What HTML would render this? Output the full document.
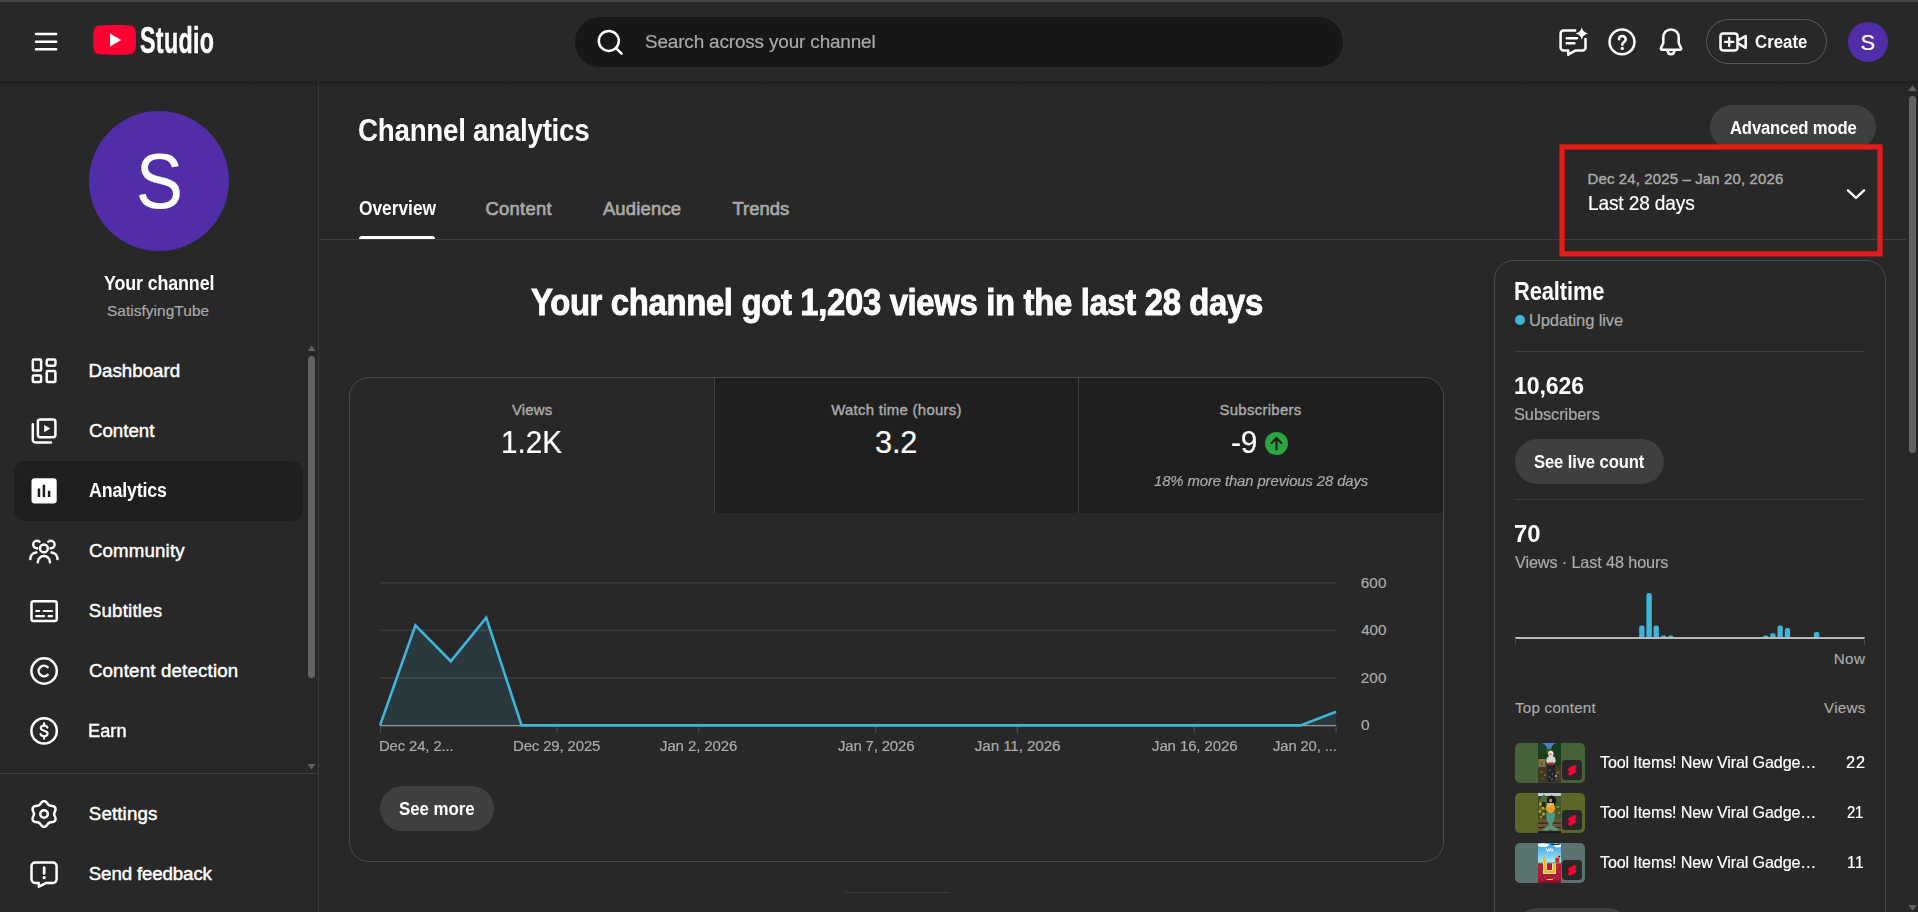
<!DOCTYPE html>
<html lang="en"><head><meta charset="utf-8"><title>Channel analytics - YouTube Studio</title>
<style>
html,body{margin:0;padding:0;}
html{width:1918px;height:912px;overflow:hidden;background:#282828;}
body{width:1918px;height:912px;overflow:hidden;background:#282828;position:relative;font-family:"Liberation Sans",sans-serif;color:#fff;}
.t{position:absolute;white-space:nowrap;display:block;}
.a{position:absolute;box-sizing:border-box;}
svg{position:absolute;overflow:visible;}
.pill{background:#3f3f3f;border-radius:23px;}
#app{position:absolute;left:0;top:0;width:1918px;height:912px;overflow:hidden;background:#282828;}
</style></head><body>
<div id="app">

<!-- top browser strip -->
<div class="a" style="left:0;top:0;width:1918px;height:2px;background:#444746"></div>

<!-- ===== sidebar ===== -->
<nav class="a" style="left:0;top:81px;width:319px;height:831px;border-right:1px solid #3a3a3a;"></nav>
<div class="a" style="left:89px;top:111px;width:140px;height:140px;border-radius:50%;background:#512da8"></div>
<div class="a" style="left:14px;top:461px;width:289px;height:60px;border-radius:10px;background:#1f1f1f"></div>
<div class="a" style="left:0;top:773px;width:318px;height:1px;background:#3f3f3f"></div>
<!-- sidebar scrollbar -->
<div class="a" style="left:308px;top:356px;width:7px;height:322px;border-radius:4px;background:#626262"></div>
<svg style="left:0;top:0" width="1918" height="912" viewBox="0 0 1918 912">
  <path d="M307.5 351 L311.5 345.5 L315.5 351Z" fill="#616161"/>
  <path d="M307.5 764 L311.5 769.5 L315.5 764Z" fill="#616161"/>
  <!-- main scrollbar arrows -->
  <path d="M1908.3 91 L1912.5 85 L1916.7 91Z" fill="#616161"/>
  <path d="M1908.3 905 L1912.5 911 L1916.7 905Z" fill="#616161"/>
</svg>
<div class="a" style="left:1909px;top:96px;width:7px;height:357px;border-radius:4px;background:#626262"></div>

<!-- ===== main: title / tabs ===== -->
<div class="a" style="left:319px;top:239px;width:1587px;height:1px;background:#3f3f3f"></div>
<div class="a" style="left:359px;top:236px;width:76px;height:3px;border-radius:3px 3px 0 0;background:#fff"></div>

<!-- Advanced mode -->
<div class="a pill" style="left:1710px;top:105px;width:166px;height:44px"></div>

<!-- ===== key metrics card ===== -->
<div class="a" style="left:349px;top:377px;width:1095px;height:485px;border:1px solid #4b4b4b;border-radius:20px;overflow:hidden">
  <div class="a" style="left:364px;top:0;width:365px;height:135px;background:#1f1f1f;border-left:1px solid #3f3f3f"></div>
  <div class="a" style="left:728px;top:0;width:366px;height:135px;background:#1f1f1f;border-left:1px solid #3f3f3f"></div>
</div>
<div class="a" style="left:1265px;top:432px;width:23px;height:23px;border-radius:50%;background:#2ba640"></div>
<svg style="left:1265px;top:432px" width="23" height="23" viewBox="0 0 23 23"><path d="M11.5 17.5V6.2M6.6 11 L11.5 6 L16.4 11" fill="none" stroke="#1f1f1f" stroke-width="2.1" stroke-linecap="round" stroke-linejoin="round"/></svg>

<!-- chart -->
<svg style="left:0;top:0" width="1918" height="912" viewBox="0 0 1918 912">
  <g stroke="#3b3b3b" stroke-width="1.6">
    <path d="M380 582.9H1336M380 630.4H1336M380 677.9H1336"/>
  </g>
  <path d="M380 725.6H1336" stroke="#9a9a9a" stroke-width="1.3"/>
  <g stroke="#4a4a4a" stroke-width="1.2">
    <path d="M380.5 726V733M557 726V733M698.7 726V733M875.7 726V733M1017.3 726V733M1194.3 726V733M1336 726V733"/>
  </g>
  <path d="M380 725.4 L415.4 625.3 L450.8 661.2 L486.2 617.7 L521.6 725.4 L1300.6 725.4 L1336 711.7 L1336 725.4Z" fill="#41b4d9" fill-opacity="0.13"/>
  <path d="M380 725.4 L415.4 625.3 L450.8 661.2 L486.2 617.7 L521.6 725.4 L1300.6 725.4 L1336 711.7" fill="none" stroke="#41b4d9" stroke-width="2.6" stroke-linejoin="miter" stroke-linecap="butt"/>
</svg>
<div class="a pill" style="left:380px;top:786px;width:114px;height:45px"></div>
<div class="a" style="left:845px;top:892px;width:103px;height:1px;background:#3f3f3f"></div>

<!-- ===== realtime card ===== -->
<div class="a" style="left:1494px;top:260px;width:392px;height:700px;border:1px solid #4b4b4b;border-radius:20px"></div>
<div class="a" style="left:1515px;top:315px;width:10px;height:10px;border-radius:50%;background:#41b4d9"></div>
<div class="a" style="left:1515px;top:351px;width:350px;height:1px;background:#3f3f3f"></div>
<div class="a pill" style="left:1515px;top:439px;width:149px;height:45px"></div>
<div class="a" style="left:1515px;top:499px;width:350px;height:1px;background:#3f3f3f"></div>
<svg style="left:0;top:0" width="1918" height="912" viewBox="0 0 1918 912">
  <g fill="#41b4d9">
    <path d="M1639.2 638V627.5a2 2 0 0 1 2-2h1.3a2 2 0 0 1 2 2V638Z"/>
    <path d="M1646.4 638V595.5a2.5 2.5 0 0 1 2.5-2.5h.4a2.5 2.5 0 0 1 2.5 2.5V638Z"/>
    <path d="M1653.6 638V627.5a2 2 0 0 1 2-2h1.3a2 2 0 0 1 2 2V638Z"/>
    <path d="M1660.9 638V637a1.6 1.6 0 0 1 1.6-1.6h2.1a1.6 1.6 0 0 1 1.6 1.6V638Z"/>
    <path d="M1668.2 638V637a1.6 1.6 0 0 1 1.6-1.6h2.1a1.6 1.6 0 0 1 1.6 1.6V638Z"/>
    <path d="M1763 638V637a1.6 1.6 0 0 1 1.6-1.6h2.1a1.6 1.6 0 0 1 1.6 1.6V638Z"/>
    <path d="M1770.2 638V635.3a2 2 0 0 1 2-2h1.3a2 2 0 0 1 2 2V638Z"/>
    <path d="M1777.5 638V627.5a2 2 0 0 1 2-2h1.3a2 2 0 0 1 2 2V638Z"/>
    <path d="M1784.8 638V630a2 2 0 0 1 2-2h1.3a2 2 0 0 1 2 2V638Z"/>
    <path d="M1814 638V633.9a2 2 0 0 1 2-2h1.3a2 2 0 0 1 2 2V638Z"/>
  </g>
  <path d="M1515 638H1865" stroke="#b8b8b8" stroke-width="2.2"/>
  <path d="M1515.5 638V645M1864.5 638V645" stroke="#4a4a4a" stroke-width="1"/>
</svg>

<!-- top content thumbs -->
<div class="a" style="left:1515px;top:743px;width:70px;height:40px;border-radius:5px;background:#466236;overflow:hidden"><svg style="left:23px;top:0" width="23" height="40" viewBox="0 0 23 40"><filter id="bl0" x="-5%" y="-5%" width="110%" height="110%"><feGaussianBlur stdDeviation="0.45"/></filter><svg width="23" height="40" viewBox="0 0 23 40" style="position:static;overflow:hidden"><g filter="url(#bl0)"><rect width="23" height="40" fill="#1e3a1d"/><rect x="3" y="0" width="17" height="7" fill="#4a7fbd"/><ellipse cx="2.5" cy="6" rx="6.5" ry="6" fill="#1f3f20"/><ellipse cx="19.5" cy="7" rx="6.5" ry="7" fill="#1b3a1c"/><ellipse cx="11" cy="8" rx="3" ry="2.5" fill="#2c5a2c"/><rect x="0" y="22" width="23" height="18" fill="#3b3a22"/><rect x="0.5" y="16" width="7" height="8" fill="#8d744a"/><rect x="2.5" y="18.5" width="2.2" height="5" fill="#5f5a44"/><rect x="9.3" y="21" width="7.8" height="18" rx="2" fill="#23272c"/><ellipse cx="13" cy="17.3" rx="4.7" ry="4.6" fill="#d9d3d1"/><rect x="10" y="19.6" width="6.4" height="2.3" rx="1" fill="#a3323b"/><ellipse cx="12.8" cy="10.6" rx="2.7" ry="2.9" fill="#ebe7e4"/><circle cx="12.5" cy="11.3" r="1.1" fill="#c8555c"/><circle cx="3.5" cy="29" r="1.6" fill="#7d4a2a"/><circle cx="20" cy="29.5" r="1.7" fill="#8a4a28"/><circle cx="4.5" cy="35.5" r="1.6" fill="#6a3a20"/><circle cx="19" cy="36" r="1.5" fill="#5c3a24"/><circle cx="7" cy="32" r="1.1" fill="#8a6a4a"/><circle cx="18" cy="33" r="1" fill="#c8c0b0"/><circle cx="12" cy="27" r=".8" fill="#7a7e86"/><circle cx="14.5" cy="31" r=".8" fill="#6a6e76"/><circle cx="11.5" cy="34" r=".8" fill="#70747c"/><circle cx="14" cy="36.5" r=".7" fill="#8a8e96"/></g></svg></svg></div><div class="a" style="left:1562px;top:760px;width:20px;height:20px;border-radius:3.5px;background:#282828"></div><svg style="left:1562px;top:760px" width="20" height="20" viewBox="0 0 20 20"><g transform="translate(10.25 10.4) scale(0.52) translate(-12 -12)"><path fill="#ff0033" d="M17.77 10.32l-1.2-.5L18 9.06a3.74 3.74 0 00-3.5-6.62L6 6.94a3.74 3.74 0 00.23 6.74l1.2.49L6 14.93a3.75 3.75 0 003.5 6.63l8.5-4.5a3.74 3.74 0 00-.23-6.74z"/></g></svg>
<div class="a" style="left:1515px;top:793px;width:70px;height:40px;border-radius:5px;background:#5b6727;overflow:hidden"><svg style="left:23px;top:0" width="23" height="40" viewBox="0 0 23 40"><filter id="bl1" x="-5%" y="-5%" width="110%" height="110%"><feGaussianBlur stdDeviation="0.45"/></filter><svg width="23" height="40" viewBox="0 0 23 40" style="position:static;overflow:hidden"><g filter="url(#bl1)"><rect width="23" height="40" fill="#3e4a24"/><rect x="0" y="0" width="23" height="3" fill="#c3ccd6"/><path d="M1 8L6 1.200L11 8V17H1z" fill="#4a7030"/><rect x="3.5" y="9" width="4" height="6" fill="#1c2414"/><rect x="16" y="3" width="7" height="24" fill="#3f5a2a"/><ellipse cx="13.5" cy="8" rx="4.6" ry="5.500" fill="#17150f"/><ellipse cx="12.6" cy="7.6" rx="1.5" ry="2" fill="#b98a6a"/><rect x="0" y="26" width="23" height="14" fill="#6d5632"/><rect x="0" y="29.500" width="23" height="1.200" fill="#2f2618"/><rect x="0" y="34" width="23" height="1.200" fill="#2f2618"/><circle cx="2.500" cy="11" r="1.400" fill="#d9a022"/><circle cx="5" cy="15" r="1.500" fill="#d39a20"/><circle cx="2" cy="18.500" r="1.400" fill="#cf9420"/><circle cx="5.500" cy="21" r="1.500" fill="#d9a022"/><circle cx="3" cy="24" r="1.300" fill="#b98420"/><circle cx="20" cy="14" r="1.100" fill="#c89020"/><circle cx="21" cy="20" r="1" fill="#b88420"/><path d="M8.500 19.500C7.500 24 9.500 29 11.500 32L4 36.500C7 38.500 10 38 12.500 36C15 38 19 38.500 21 36.500L13.800 32C16 28 17.500 24 16.800 19.500z" fill="#4f9a86"/><ellipse cx="12.600" cy="15.200" rx="4.600" ry="5" fill="#e39a26"/><circle cx="11" cy="13" r="1.500" fill="#f0b838"/><circle cx="14.300" cy="13.800" r="1.500" fill="#f0b030"/><circle cx="12.400" cy="17" r="1.600" fill="#eaa428"/><rect x="9" y="10.200" width="7" height="1.600" fill="#d8c8a8"/><rect x="0" y="38.200" width="23" height="1.800" fill="#1c1a14"/></g></svg></svg></div><div class="a" style="left:1562px;top:810px;width:20px;height:20px;border-radius:3.5px;background:#282828"></div><svg style="left:1562px;top:810px" width="20" height="20" viewBox="0 0 20 20"><g transform="translate(10.25 10.4) scale(0.52) translate(-12 -12)"><path fill="#ff0033" d="M17.77 10.32l-1.2-.5L18 9.06a3.74 3.74 0 00-3.5-6.62L6 6.94a3.74 3.74 0 00.23 6.74l1.2.49L6 14.93a3.75 3.75 0 003.5 6.63l8.5-4.5a3.74 3.74 0 00-.23-6.74z"/></g></svg>
<div class="a" style="left:1515px;top:843px;width:70px;height:40px;border-radius:5px;background:#5a7370;overflow:hidden"><svg style="left:23px;top:0" width="23" height="40" viewBox="0 0 23 40"><filter id="bl2" x="-5%" y="-5%" width="110%" height="110%"><feGaussianBlur stdDeviation="0.45"/></filter><svg width="23" height="40" viewBox="0 0 23 40" style="position:static;overflow:hidden"><g filter="url(#bl2)"><defs><linearGradient id="sk" x1="0" y1="0" x2="0" y2="1"><stop offset="0" stop-color="#2f9be8"/><stop offset="1" stop-color="#b4ecf2"/></linearGradient><linearGradient id="gd" x1="0" y1="0" x2="0" y2="1"><stop offset="0" stop-color="#b21f3e"/><stop offset=".75" stop-color="#a8183a"/><stop offset="1" stop-color="#7c0f22"/></linearGradient></defs><rect width="23" height="20.300" fill="url(#sk)"/><rect y="20.300" width="23" height="19.700" fill="url(#gd)"/><rect y="19.500" width="23" height="1" fill="#4c9a2a"/><ellipse cx="5" cy="2.200" rx="6" ry="1.900" fill="#fff"/><ellipse cx="20" cy="3" rx="4" ry="1.400" fill="#fff"/><rect x="13" y=".5" width="8.500" height="1.200" rx=".5" fill="#141414"/><rect x="15.500" y=".300" width="4.500" height=".600" fill="#e8d040"/><path d="M8.300 5.500l1.300 3 1.200-3M11.200 8.500l1.200-3 1.200 3M13.900 5.500l1.200 3" stroke="#fff" stroke-width="1" fill="none"/><g fill="#c43a58" opacity=".55"><rect x="1" y="23" width="2" height="2"/><rect x="3" y="27" width="2" height="2"/><rect x="1" y="31" width="2" height="2"/><rect x="19" y="23" width="2" height="2"/><rect x="20.500" y="28" width="2" height="2"/><rect x="18.500" y="32" width="2" height="2"/><rect x="6" y="33" width="2" height="2"/><rect x="11" y="33.500" width="2" height="2"/><rect x="15.500" y="34" width="2" height="2"/><rect x="3" y="35.500" width="2" height="2"/></g><path d="M5 19V31H17.800V20.500H14V27H8.800V19z" fill="#fff"/><path d="M5.600 17.500V30.400H17.200V21H14.600V27.600H8.200V17.500z" fill="#e6bd1e"/><circle cx="6.200" cy="15" r="1.500" fill="#e8a46a"/><rect x="5.300" y="16.200" width="2.200" height="3" fill="#e6c02a"/><rect x="17.300" y="14.800" width="4" height="5" rx="1" fill="#d82038"/><circle cx="19.600" cy="13.200" r="1.500" fill="#e8a080"/><circle cx="21.300" cy="13.600" r=".9" fill="#141414"/><rect x="8.500" y="36" width="6.500" height="1.100" rx=".5" fill="#e8c820"/></g></svg></svg></div><div class="a" style="left:1562px;top:860px;width:20px;height:20px;border-radius:3.5px;background:#282828"></div><svg style="left:1562px;top:860px" width="20" height="20" viewBox="0 0 20 20"><g transform="translate(10.25 10.4) scale(0.52) translate(-12 -12)"><path fill="#ff0033" d="M17.77 10.32l-1.2-.5L18 9.06a3.74 3.74 0 00-3.5-6.62L6 6.94a3.74 3.74 0 00.23 6.74l1.2.49L6 14.93a3.75 3.75 0 003.5 6.63l8.5-4.5a3.74 3.74 0 00-.23-6.74z"/></g></svg>
<div class="a pill" style="left:1515px;top:908px;width:115px;height:45px"></div>

<!-- ===== red highlight box (annotation) ===== -->
<svg style="left:0;top:0" width="1918" height="912" viewBox="0 0 1918 912"><rect x="1562.05" y="146.95" width="317.9" height="106.9" fill="none" stroke="#e31b1b" stroke-width="5.3"/></svg>
<svg style="left:1846px;top:187px" width="20" height="14" viewBox="0 0 20 14"><path d="M2 3.3 L10 11 L18 3.3" fill="none" stroke="#fff" stroke-width="2.4" stroke-linecap="round" stroke-linejoin="round"/></svg>

<!-- ===== header ===== -->
<div class="a" style="left:0;top:81px;width:1918px;height:8px;background:linear-gradient(rgba(0,0,0,.22),rgba(0,0,0,0))"></div>
<header class="a" style="left:0;top:2px;width:1918px;height:79px;background:#282828"></header>
<div class="a" style="left:575px;top:17px;width:768px;height:50px;border-radius:25px;background:#171717"></div>
<div class="a" style="left:1706px;top:19px;width:121px;height:45px;border-radius:23px;border:1px solid #5a5a5a"></div>
<div class="a" style="left:1848px;top:22px;width:40px;height:40px;border-radius:50%;background:#512da8"></div>
<div class="t" style="left:140.1px;top:19.4px;font-size:36.7px;line-height:44px;font-weight:700;transform:scaleX(0.634);transform-origin:0 0;letter-spacing:0.5px;-webkit-text-stroke:0.5px #fff">Studio</div>
<svg style="left:0;top:0" width="1918" height="912" viewBox="0 0 1918 912" fill="none" stroke="#fff" stroke-width="2.5" stroke-linecap="round" stroke-linejoin="round">
  <!-- hamburger -->
  <g fill="#fff" stroke="none"><rect x="34.8" y="32.8" width="22.5" height="2.5" rx="1"/><rect x="34.8" y="40.4" width="22.5" height="2.5" rx="1"/><rect x="34.8" y="48" width="22.5" height="2.5" rx="1"/></g>
  <!-- yt logo -->
  <path stroke="none" fill="#ff0033" d="M135.2 29.6c-.5-1.9-2-3.3-3.8-3.8C128 24.9 114.6 24.9 114.6 24.9s-13.4 0-16.8.9c-1.800.5-3.300 1.900-3.800 3.800C93.1 33 93.1 39.900 93.1 39.900s0 6.900.9 10.300c.5 1.900 2 3.300 3.800 3.800 3.400.9 16.800.9 16.800.9s13.400 0 16.800-.9c1.800-.5 3.300-1.900 3.800-3.800.9-3.400.9-10.300.9-10.300s0-6.900-.9-10.300z"/>
  <path stroke="none" fill="#fff" d="M110 33.5V46.400L121.200 39.950z"/>
  <!-- search icon -->
  <circle cx="608.8" cy="40.900" r="10" stroke-width="2.5"/><path d="M616.200 48.300L621.600 53.600" stroke-width="2.5"/>
  <!-- chat sparkle icon -->
  <path stroke-linecap="butt" d="M1576.2 30.5H1563.6a3 3 0 0 0-3 3V47.4a3 3 0 0 0 3 3h4.600V54.700L1575.7 50.4H1582.500a3 3 0 0 0 3-3V38"/>
  <path d="M1566.700 38.300H1577M1566.700 43.200H1574.400"/>
  <path stroke="none" fill="#fff" d="M1581.800 26.900c.7 3.600 2.400 5.600 6.100 6.500-3.700.9-5.400 2.900-6.100 6.500-.7-3.600-2.400-5.600-6.100-6.500 3.700-.9 5.400-2.900 6.100-6.500z"/>
  <!-- help -->
  <circle cx="1622" cy="41.9" r="12.45"/>
  <path d="M1619 39.300c0-1.900 1.400-3.300 3.300-3.300s3.400 1.400 3.400 3.200c0 2.700-3.400 2.800-3.400 5.500" stroke-width="2.600"/><circle cx="1622.300" cy="48.400" r="1.650" fill="#fff" stroke="none"/>
  <!-- bell -->
  <path d="M1671 29.400c-4.500 0-7.700 3.500-7.700 8V43l-2.400 5.200c-.3.700.2 1.500 1 1.500h18.200c.8 0 1.300-.8 1-1.500L1678.700 43V37.400c0-4.500-3.200-8-7.700-8z"/>
  <path d="M1667.500 50.500c.3 2.200 1.700 3.800 3.500 3.800s3.200-1.600 3.500-3.800"/>
  <!-- create camera -->
  <rect x="1720.500" y="33.400" width="17" height="17" rx="2.800"/>
  <path d="M1729.200 37.800V46M1725.100 41.900H1733.300" stroke-width="2.300"/>
  <path d="M1738.500 40.200L1745.700 36V47.800L1738.500 43.600"/>
</svg>

<!-- ===== sidebar icons ===== -->
<svg style="left:0;top:0" width="1918" height="912" viewBox="0 0 1918 912" fill="none" stroke="#fff" stroke-width="2.5" stroke-linecap="round" stroke-linejoin="round">
  <!-- dashboard -->
  <rect x="32.8" y="359.5" width="8.3" height="11.1" rx="1.2"/><rect x="32.8" y="375.6" width="8.3" height="6.5" rx="1.2"/>
  <rect x="46.7" y="359.5" width="8.7" height="6.2" rx="1.2"/><rect x="46.7" y="371" width="8.7" height="11.1" rx="1.2"/>
  <!-- content -->
  <rect x="37.9" y="419.5" width="17.5" height="17.8" rx="2.2"/>
  <path d="M32.8 424.2V439.9a2.5 2.5 0 0 0 2.5 2.5H51"/>
  <path stroke="none" fill="#fff" d="M44.2 424.9V432.2L50.4 428.55z"/>
  <!-- analytics (selected, filled) -->
  <rect x="31.5" y="478.2" width="25.2" height="25.2" rx="3.2" fill="#fff" stroke="none"/>
  <path d="M38.95 488.6V496.9M43.9 484.8V496.9M49.1 490.8V496.9" stroke="#1f1f1f" stroke-width="2.5" stroke-linecap="butt"/>
  <!-- community -->
  <circle cx="43.900" cy="548.400" r="3.900"/>
  <path d="M37.800 562.300c0-3.400 2.700-6.200 6.100-6.200s6.100 2.800 6.100 6.200"/>
  <path d="M37.200 548.300a3.800 3.800 0 1 1 2.200-6.700"/>
  <path d="M50.600 548.300a3.800 3.800 0 1 0-2.200-6.700"/>
  <path d="M30.300 559c0-3.300 2.500-6.200 6-6.600"/>
  <path d="M57.500 559c0-3.300-2.500-6.200-6-6.600"/>
  <!-- subtitles -->
  <rect x="31.500" y="601.300" width="25.200" height="19.700" rx="2"/>
  <path d="M36.200 611H39.200M43.800 611H52M36.200 616.200H44M48.600 616.200H52" stroke-width="2.200"/>
  <!-- copyright -->
  <circle cx="44.100" cy="671" r="12.700"/>
  <path d="M47.600 667.200a5.300 5.300 0 1 0 0 7.600"/>
  <!-- earn -->
  <circle cx="44.100" cy="730.900" r="12.700"/>
  <path d="M47.400 727.600c-.4-1.300-1.700-2-3.300-2-1.900 0-3.300 1-3.300 2.500 0 3.600 6.800 1.700 6.800 5.500 0 1.500-1.400 2.600-3.500 2.600-1.800 0-3.200-.8-3.600-2.200M44.100 723.200V725.600M44.100 736.200V738.600" stroke-width="2.100"/>
  <!-- settings -->
  <circle cx="44.05" cy="814" r="3.75"/>
  <path d="M54.15 814.00 L54.19 813.56 L54.29 813.10 L54.46 812.63 L54.66 812.13 L54.89 811.60 L55.11 811.04 L55.30 810.45 L55.44 809.85 L55.51 809.25 L55.49 808.67 L55.36 808.11 L55.14 807.60 L54.81 807.15 L54.39 806.76 L53.89 806.45 L53.34 806.21 L52.75 806.03 L52.15 805.90 L51.55 805.82 L50.98 805.75 L50.44 805.67 L49.95 805.58 L49.50 805.44 L49.10 805.25 L48.73 805.00 L48.39 804.68 L48.07 804.30 L47.74 803.87 L47.39 803.41 L47.01 802.94 L46.60 802.48 L46.16 802.06 L45.67 801.70 L45.15 801.43 L44.61 801.26 L44.05 801.20 L43.49 801.26 L42.95 801.43 L42.43 801.70 L41.94 802.06 L41.50 802.48 L41.09 802.94 L40.71 803.41 L40.36 803.87 L40.03 804.30 L39.71 804.68 L39.37 805.00 L39.00 805.25 L38.60 805.44 L38.15 805.58 L37.66 805.67 L37.12 805.75 L36.55 805.82 L35.95 805.90 L35.35 806.03 L34.76 806.21 L34.21 806.45 L33.71 806.76 L33.29 807.15 L32.96 807.60 L32.74 808.11 L32.61 808.67 L32.59 809.25 L32.66 809.85 L32.80 810.45 L32.99 811.04 L33.21 811.60 L33.44 812.13 L33.64 812.63 L33.81 813.10 L33.91 813.56 L33.95 814.00 L33.91 814.44 L33.81 814.90 L33.64 815.37 L33.44 815.87 L33.21 816.40 L32.99 816.96 L32.80 817.55 L32.66 818.15 L32.59 818.75 L32.61 819.33 L32.74 819.89 L32.96 820.40 L33.29 820.85 L33.71 821.24 L34.21 821.55 L34.76 821.79 L35.35 821.97 L35.95 822.10 L36.55 822.18 L37.12 822.25 L37.66 822.33 L38.15 822.42 L38.60 822.56 L39.00 822.75 L39.37 823.00 L39.71 823.32 L40.03 823.70 L40.36 824.13 L40.71 824.59 L41.09 825.06 L41.50 825.52 L41.94 825.94 L42.43 826.30 L42.95 826.57 L43.49 826.74 L44.05 826.80 L44.61 826.74 L45.15 826.57 L45.67 826.30 L46.16 825.94 L46.60 825.52 L47.01 825.06 L47.39 824.59 L47.74 824.13 L48.07 823.70 L48.39 823.32 L48.73 823.00 L49.10 822.75 L49.50 822.56 L49.95 822.42 L50.44 822.33 L50.98 822.25 L51.55 822.18 L52.15 822.10 L52.75 821.97 L53.34 821.79 L53.89 821.55 L54.39 821.24 L54.81 820.85 L55.14 820.40 L55.36 819.89 L55.49 819.33 L55.51 818.75 L55.44 818.15 L55.30 817.55 L55.11 816.96 L54.89 816.40 L54.66 815.87 L54.46 815.37 L54.29 814.90 L54.19 814.44Z"/>
  <!-- feedback -->
  <path d="M35.1 862.5H53a3.6 3.6 0 0 1 3.6 3.6V879.3a3.6 3.6 0 0 1-3.6 3.6H46.5L38.8 886.7V882.9H35.1a3.6 3.6 0 0 1-3.6-3.6V866.1a3.600 3.600 0 0 1 3.600-3.600z"/>
  <path d="M44.15 867.700V873.500" stroke-width="2.700"/><circle cx="44.15" cy="877.700" r="1.600" fill="#fff" stroke="none"/>
</svg>

<span class="t" style="left:645.20px;top:29.00px;font-size:19.08px;line-height:25px;color:#aaaaaa;letter-spacing:-0.148px;transform:scaleX(0.9909);transform-origin:0 0;-webkit-text-stroke:0.2px #aaaaaa;">Search across your channel</span>
<span class="t" style="left:1755.01px;top:30.00px;font-size:18.08px;line-height:24px;color:#fff;font-weight:700;letter-spacing:0.011px;transform:scaleX(0.9289);transform-origin:0 0;">Create</span>
<span class="t" style="left:1860.41px;top:29.00px;font-size:21.71px;line-height:28px;color:#fff;-webkit-text-stroke:0.2px #fff;">S</span>
<span class="t" style="left:135.99px;top:131.00px;font-size:77.7px;line-height:101px;color:#fff;transform:scaleX(0.9037);transform-origin:0 0;-webkit-text-stroke:0.2px #fff;">S</span>
<span class="t" style="left:103.68px;top:271.00px;font-size:19.37px;line-height:25px;color:#fff;font-weight:700;letter-spacing:-0.124px;transform:scaleX(0.9214);transform-origin:0 0;">Your channel</span>
<span class="t" style="left:106.93px;top:301.00px;font-size:15.41px;line-height:20px;color:#aaaaaa;letter-spacing:0.063px;-webkit-text-stroke:0.2px #aaaaaa;">SatisfyingTube</span>
<span class="t" style="left:88.46px;top:359.00px;font-size:18.71px;line-height:24px;color:#fff;letter-spacing:0.033px;-webkit-text-stroke:0.45px #fff;">Dashboard</span>
<span class="t" style="left:88.90px;top:419.00px;font-size:18.71px;line-height:24px;color:#fff;letter-spacing:0.019px;-webkit-text-stroke:0.45px #fff;">Content</span>
<span class="t" style="left:88.53px;top:478.00px;font-size:19.37px;line-height:25px;color:#fff;font-weight:700;letter-spacing:-0.176px;transform:scaleX(0.9191);transform-origin:0 0;">Analytics</span>
<span class="t" style="left:88.88px;top:539.00px;font-size:18.71px;line-height:24px;color:#fff;letter-spacing:0.154px;-webkit-text-stroke:0.45px #fff;">Community</span>
<span class="t" style="left:88.79px;top:599.00px;font-size:18.71px;line-height:24px;color:#fff;letter-spacing:0.209px;-webkit-text-stroke:0.45px #fff;">Subtitles</span>
<span class="t" style="left:88.88px;top:659.00px;font-size:18.71px;line-height:24px;color:#fff;letter-spacing:0.179px;-webkit-text-stroke:0.45px #fff;">Content detection</span>
<span class="t" style="left:88.18px;top:719.00px;font-size:18.71px;line-height:24px;color:#fff;letter-spacing:0.040px;transform:scaleX(0.9725);transform-origin:0 0;-webkit-text-stroke:0.45px #fff;">Earn</span>
<span class="t" style="left:88.79px;top:802.00px;font-size:18.71px;line-height:24px;color:#fff;letter-spacing:0.146px;-webkit-text-stroke:0.45px #fff;">Settings</span>
<span class="t" style="left:88.79px;top:862.00px;font-size:18.71px;line-height:24px;color:#fff;letter-spacing:-0.126px;-webkit-text-stroke:0.45px #fff;">Send feedback</span>
<span class="t" style="left:357.87px;top:110.00px;font-size:31.51px;line-height:41px;color:#fff;font-weight:700;letter-spacing:-0.325px;transform:scaleX(0.8821);transform-origin:0 0;">Channel analytics</span>
<span class="t" style="left:359.14px;top:196.00px;font-size:19.37px;line-height:25px;color:#fff;font-weight:700;letter-spacing:-0.039px;transform:scaleX(0.8978);transform-origin:0 0;">Overview</span>
<span class="t" style="left:485.45px;top:197.00px;font-size:18.42px;line-height:24px;color:#aaaaaa;letter-spacing:0.282px;-webkit-text-stroke:0.65px #aaaaaa;">Content</span>
<span class="t" style="left:602.88px;top:197.00px;font-size:18.42px;line-height:24px;color:#aaaaaa;letter-spacing:0.212px;-webkit-text-stroke:0.65px #aaaaaa;">Audience</span>
<span class="t" style="left:732.51px;top:197.00px;font-size:18.42px;line-height:24px;color:#aaaaaa;letter-spacing:0.007px;-webkit-text-stroke:0.65px #aaaaaa;">Trends</span>
<span class="t" style="left:530.84px;top:278.00px;font-size:37.74px;line-height:49px;color:#fff;font-weight:700;letter-spacing:-0.396px;transform:scaleX(0.8712);transform-origin:0 0;-webkit-text-stroke:0.9px #fff;">Your channel got 1,203 views in the last 28 days</span>
<span class="t" style="left:511.90px;top:401.00px;font-size:14.91px;line-height:19px;color:#aaaaaa;letter-spacing:0.215px;-webkit-text-stroke:0.4px #aaaaaa;">Views</span>
<span class="t" style="left:501.46px;top:423.00px;font-size:30.7px;line-height:40px;color:#fff;letter-spacing:0.016px;transform:scaleX(0.9657);transform-origin:0 0;-webkit-text-stroke:0.2px #fff;">1.2K</span>
<span class="t" style="left:831.18px;top:401.00px;font-size:14.91px;line-height:19px;color:#aaaaaa;letter-spacing:0.296px;-webkit-text-stroke:0.4px #aaaaaa;">Watch time (hours)</span>
<span class="t" style="left:875.06px;top:423.00px;font-size:30.7px;line-height:40px;color:#fff;letter-spacing:-0.184px;-webkit-text-stroke:0.2px #fff;">3.2</span>
<span class="t" style="left:1219.47px;top:401.00px;font-size:14.91px;line-height:19px;color:#aaaaaa;letter-spacing:0.307px;-webkit-text-stroke:0.4px #aaaaaa;">Subscribers</span>
<span class="t" style="left:1231.03px;top:423.00px;font-size:30.7px;line-height:40px;color:#fff;letter-spacing:-0.087px;transform:scaleX(0.9720);transform-origin:0 0;-webkit-text-stroke:0.2px #fff;">-9</span>
<span class="t" style="left:1153.83px;top:471.00px;font-size:15.2px;line-height:20px;color:#aaaaaa;font-style:italic;letter-spacing:-0.116px;transform:scaleX(0.9798);transform-origin:0 0;-webkit-text-stroke:0.2px #aaaaaa;">18% more than previous 28 days</span>
<span class="t" style="left:379.08px;top:736.00px;font-size:15.2px;line-height:20px;color:#aaaaaa;letter-spacing:-0.113px;transform:scaleX(0.9771);transform-origin:0 0;-webkit-text-stroke:0.2px #aaaaaa;">Dec 24, 2...</span>
<span class="t" style="left:513.04px;top:736.00px;font-size:15.2px;line-height:20px;color:#aaaaaa;letter-spacing:-0.138px;transform:scaleX(0.9841);transform-origin:0 0;-webkit-text-stroke:0.2px #aaaaaa;">Dec 29, 2025</span>
<span class="t" style="left:660.09px;top:736.00px;font-size:15.2px;line-height:20px;color:#aaaaaa;letter-spacing:-0.098px;transform:scaleX(0.9855);transform-origin:0 0;-webkit-text-stroke:0.2px #aaaaaa;">Jan 2, 2026</span>
<span class="t" style="left:837.90px;top:736.00px;font-size:15.2px;line-height:20px;color:#aaaaaa;letter-spacing:-0.161px;transform:scaleX(0.9829);transform-origin:0 0;-webkit-text-stroke:0.2px #aaaaaa;">Jan 7, 2026</span>
<span class="t" style="left:974.85px;top:736.00px;font-size:15.2px;line-height:20px;color:#aaaaaa;letter-spacing:-0.101px;-webkit-text-stroke:0.2px #aaaaaa;">Jan 11, 2026</span>
<span class="t" style="left:1152.49px;top:736.00px;font-size:15.2px;line-height:20px;color:#aaaaaa;letter-spacing:-0.111px;transform:scaleX(0.9871);transform-origin:0 0;-webkit-text-stroke:0.2px #aaaaaa;">Jan 16, 2026</span>
<span class="t" style="left:1272.90px;top:736.00px;font-size:15.2px;line-height:20px;color:#aaaaaa;letter-spacing:-0.135px;transform:scaleX(0.9762);transform-origin:0 0;-webkit-text-stroke:0.2px #aaaaaa;">Jan 20, ...</span>
<span class="t" style="left:1360.71px;top:573.00px;font-size:15.2px;line-height:20px;color:#aaaaaa;letter-spacing:0.214px;-webkit-text-stroke:0.2px #aaaaaa;">600</span>
<span class="t" style="left:1361.17px;top:620.00px;font-size:15.2px;line-height:20px;color:#aaaaaa;letter-spacing:-0.017px;-webkit-text-stroke:0.2px #aaaaaa;">400</span>
<span class="t" style="left:1360.72px;top:668.00px;font-size:15.2px;line-height:20px;color:#aaaaaa;letter-spacing:0.132px;-webkit-text-stroke:0.2px #aaaaaa;">200</span>
<span class="t" style="left:1361.16px;top:715.00px;font-size:15.2px;line-height:20px;color:#aaaaaa;transform:scaleX(1.0313);transform-origin:0 0;-webkit-text-stroke:0.2px #aaaaaa;">0</span>
<span class="t" style="left:399.09px;top:797.00px;font-size:18.08px;line-height:24px;color:#fff;font-weight:700;letter-spacing:-0.066px;transform:scaleX(0.9334);transform-origin:0 0;">See more</span>
<span class="t" style="left:1729.67px;top:116.00px;font-size:18.08px;line-height:24px;color:#fff;font-weight:700;letter-spacing:-0.169px;transform:scaleX(0.9213);transform-origin:0 0;">Advanced mode</span>
<span class="t" style="left:1587.56px;top:170.00px;font-size:14.91px;line-height:19px;color:#aaaaaa;letter-spacing:0.161px;-webkit-text-stroke:0.4px #aaaaaa;">Dec 24, 2025 – Jan 20, 2026</span>
<span class="t" style="left:1587.87px;top:190.00px;font-size:20.37px;line-height:26px;color:#fff;letter-spacing:-0.132px;transform:scaleX(0.9364);transform-origin:0 0;-webkit-text-stroke:0.2px #fff;">Last 28 days</span>
<span class="t" style="left:1513.62px;top:275.00px;font-size:25.1px;line-height:33px;color:#fff;font-weight:700;letter-spacing:-0.135px;transform:scaleX(0.8729);transform-origin:0 0;">Realtime</span>
<span class="t" style="left:1528.90px;top:310.00px;font-size:16.5px;line-height:21px;color:#aaaaaa;letter-spacing:-0.090px;-webkit-text-stroke:0.2px #aaaaaa;">Updating live</span>
<span class="t" style="left:1513.94px;top:370.00px;font-size:24.17px;line-height:31px;color:#fff;font-weight:700;letter-spacing:-0.136px;transform:scaleX(0.9558);transform-origin:0 0;">10,626</span>
<span class="t" style="left:1514.36px;top:404.00px;font-size:16.5px;line-height:21px;color:#aaaaaa;letter-spacing:-0.076px;transform:scaleX(0.9940);transform-origin:0 0;-webkit-text-stroke:0.2px #aaaaaa;">Subscribers</span>
<span class="t" style="left:1533.74px;top:450.00px;font-size:18.08px;line-height:24px;color:#fff;font-weight:700;letter-spacing:-0.123px;transform:scaleX(0.9192);transform-origin:0 0;">See live count</span>
<span class="t" style="left:1514.36px;top:518.00px;font-size:24.17px;line-height:31px;color:#fff;font-weight:700;letter-spacing:0.061px;transform:scaleX(0.9872);transform-origin:0 0;">70</span>
<span class="t" style="left:1515.04px;top:552.00px;font-size:16.5px;line-height:21px;color:#aaaaaa;letter-spacing:-0.143px;transform:scaleX(0.9865);transform-origin:0 0;-webkit-text-stroke:0.2px #aaaaaa;">Views · Last 48 hours</span>
<span class="t" style="left:1833.70px;top:649.00px;font-size:15.2px;line-height:20px;color:#aaaaaa;letter-spacing:0.393px;-webkit-text-stroke:0.2px #aaaaaa;">Now</span>
<span class="t" style="left:1514.98px;top:698.00px;font-size:15.2px;line-height:20px;color:#aaaaaa;letter-spacing:0.223px;-webkit-text-stroke:0.2px #aaaaaa;">Top content</span>
<span class="t" style="left:1824.03px;top:698.00px;font-size:15.2px;line-height:20px;color:#aaaaaa;letter-spacing:0.260px;-webkit-text-stroke:0.2px #aaaaaa;">Views</span>
<span class="t" style="left:1600.09px;top:752.00px;font-size:16.5px;line-height:21px;color:#fff;letter-spacing:-0.134px;transform:scaleX(0.9763);transform-origin:0 0;-webkit-text-stroke:0.2px #fff;">Tool Items! New Viral Gadge…</span>
<span class="t" style="left:1846.21px;top:752.00px;font-size:16.5px;line-height:21px;color:#fff;letter-spacing:0.910px;transform:scaleX(0.9886);transform-origin:0 0;-webkit-text-stroke:0.2px #fff;">22</span>
<span class="t" style="left:1600.09px;top:802.00px;font-size:16.5px;line-height:21px;color:#fff;letter-spacing:-0.134px;transform:scaleX(0.9763);transform-origin:0 0;-webkit-text-stroke:0.2px #fff;">Tool Items! New Viral Gadge…</span>
<span class="t" style="left:1847.09px;top:802.00px;font-size:16.5px;line-height:21px;color:#fff;letter-spacing:-0.408px;transform:scaleX(0.9016);transform-origin:0 0;-webkit-text-stroke:0.2px #fff;">21</span>
<span class="t" style="left:1600.09px;top:852.00px;font-size:16.5px;line-height:21px;color:#fff;letter-spacing:-0.134px;transform:scaleX(0.9763);transform-origin:0 0;-webkit-text-stroke:0.2px #fff;">Tool Items! New Viral Gadge…</span>
<span class="t" style="left:1847.25px;top:852.00px;font-size:16.5px;line-height:21px;color:#fff;letter-spacing:0.373px;transform:scaleX(0.9487);transform-origin:0 0;-webkit-text-stroke:0.2px #fff;">11</span>
</div>
</body></html>
